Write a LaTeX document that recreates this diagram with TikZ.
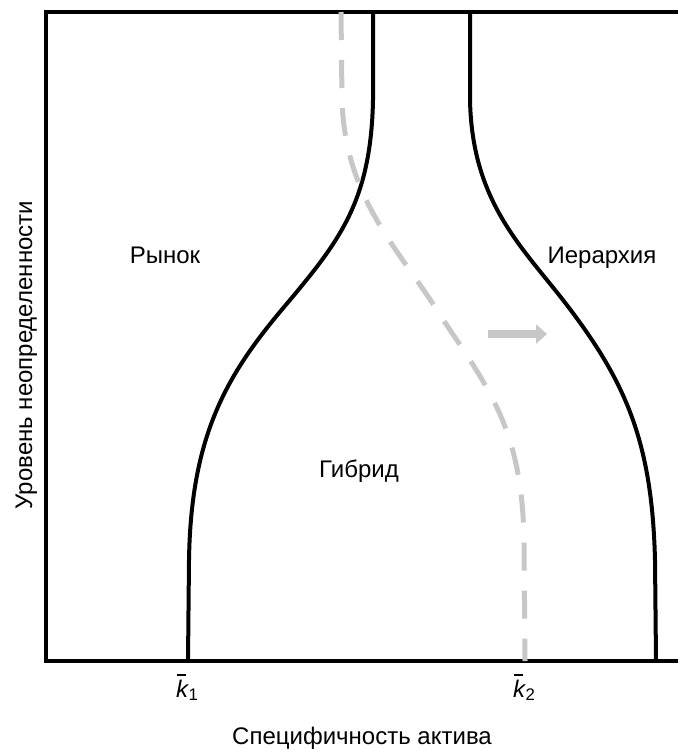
\documentclass[tikz,border=0pt]{standalone}
\usepackage{fontspec}
\setmainfont{Liberation Sans}
\usetikzlibrary{arrows.meta}
\definecolor{shiftgray}{gray}{0.78}
\newcommand\kbar[1]{\rlap{\kern1pt\rule[21pt]{9pt}{1.8pt}}\textit{k}\kern-0.5pt\textsubscript{#1}}
\begin{document}
\begin{tikzpicture}[x=1pt,y=-1pt,font=\fontsize{24}{28}\selectfont,
	frame/.style={line width=3.5pt,line join=miter},
	border/.style={line width=4pt,line cap=round},
	shifted/.style={line width=5pt,shiftgray,dash pattern=on 28pt off 20pt}]
	\useasboundingbox (0,0) rectangle (678,749);
	% axes box, open on the right
	\draw[frame] (678,12) -- (46,12) -- (46,661) -- (678,661);
	% market / hybrid border
	\draw[border] (188,661) -- (189,560) .. controls (191,430) and (230,370) .. (290,300)
		.. controls (340,240) and (371,200) .. (373,100) -- (373,12);
	% hybrid / hierarchy border
	\draw[border] (656,661) -- (655,560) .. controls (652,440) and (625,380) .. (563,300)
		.. controls (520,245) and (472,200) .. (470,100) -- (470,12);
	% shifted border
	\draw[shifted] (341,12) -- (342,100) .. controls (345,200) and (400,250) .. (440,315)
		.. controls (490,390) and (522,430) .. (524,540) -- (525,661);
	\draw[line width=8pt,shiftgray,-{Triangle[length=11pt,width=19pt]}] (488,334) -- (547,334);
	% labels
	\node[anchor=base] (market) at (165,263) {Рынок};
	\node[anchor=base] (hierarchy) at (602,263) {Иерархия};
	\node[anchor=base] (hybrid) at (359,477) {Гибрид};
	\node[anchor=base west,inner sep=0pt] (k1) at (176,697) {\kbar{1}};
	\node[anchor=base west,inner sep=0pt] (k2) at (513,697) {\kbar{2}};
	\node[anchor=base] (xlabel) at (362,744) {Специфичность актива};
	\node[anchor=base,rotate=90] (ylabel) at (32,355) {Уровень неопределенности};
\end{tikzpicture}
\end{document}
